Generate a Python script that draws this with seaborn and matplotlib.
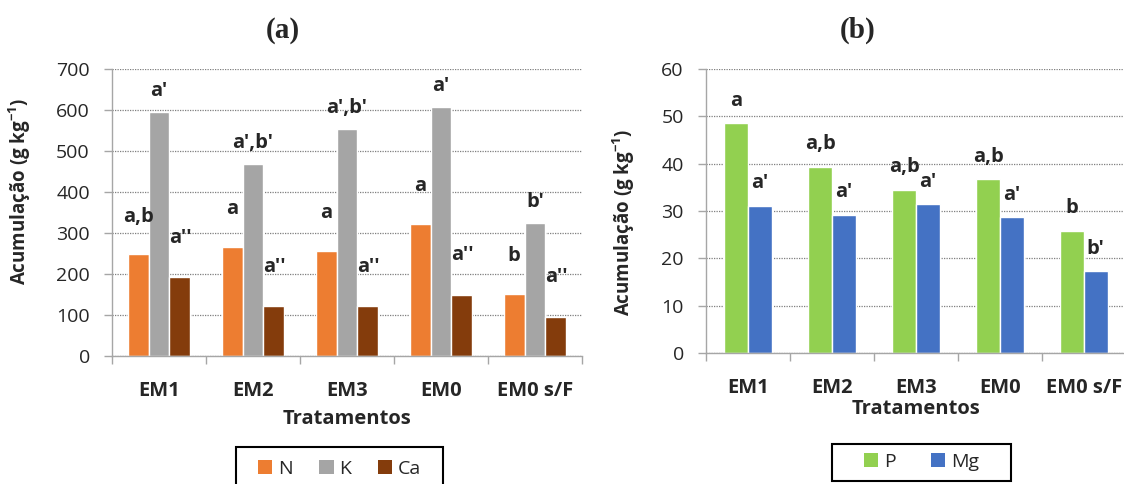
import matplotlib
matplotlib.use("Agg")
import matplotlib.pyplot as plt
import seaborn as sns
import pandas as pd
from matplotlib.patches import Patch, Rectangle
from matplotlib.ticker import FixedLocator, MultipleLocator

# ---------------- data ----------------
treatments = ["EM1", "EM2", "EM3", "EM0", "EM0 s/F"]
n_vals = [248, 266, 257, 323, 152]
k_vals = [596, 469, 553, 607, 325]
ca_vals = [193, 121, 122, 150, 96]
p_vals = [48.5, 39.4, 34.5, 36.7, 25.8]
mg_vals = [31.1, 29.2, 31.4, 28.7, 17.3]

n_letters = ["a,b", "a", "a", "a", "b"]
k_letters = ["a'", "a',b'", "a',b'", "a'", "b'"]
ca_letters = ["a''", "a''", "a''", "a''", "a''"]
p_letters = ["a", "a,b", "a,b", "a,b", "b"]
mg_letters = ["a'", "a'", "a'", "a'", "b'"]

colors_a = {"N": "#ED7D31", "K": "#A5A5A5", "Ca": "#843C0C"}
colors_b = {"P": "#92D050", "Mg": "#4472C4"}

# ---------------- style ----------------
sns.set_theme(style="white")
FONT = "Open Sans"
plt.rcParams["font.family"] = [FONT, "DejaVu Sans"]
plt.rcParams["mathtext.fontset"] = "custom"
plt.rcParams["mathtext.rm"] = FONT
plt.rcParams["mathtext.bf"] = FONT + ":bold"

df_a = pd.DataFrame({
    "Tratamento": treatments * 3,
    "Elemento": ["N"] * 5 + ["K"] * 5 + ["Ca"] * 5,
    "valor": n_vals + k_vals + ca_vals,
})
df_b = pd.DataFrame({
    "Tratamento": treatments * 2,
    "Elemento": ["P"] * 5 + ["Mg"] * 5,
    "valor": p_vals + mg_vals,
})

W, H = 1124, 484
fig = plt.figure(figsize=(W / 100, H / 100), dpi=100)
ax_a = fig.add_axes([112 / W, 128 / H, 470 / W, 287 / H])
ax_b = fig.add_axes([706 / W, 131 / H, 420 / W, 284 / H])

sns.barplot(data=df_a, x="Tratamento", y="valor", hue="Elemento",
            palette=colors_a, width=0.67, ax=ax_a, legend=False,
            saturation=1, errorbar=None)
sns.barplot(data=df_b, x="Tratamento", y="valor", hue="Elemento",
            palette=colors_b, width=0.56, ax=ax_b, legend=False,
            saturation=1, errorbar=None)

TICK = 14
BOLD = 14.5
GRID = "#7F7F7F"
SPINE = "#A6A6A6"


def style_axes(ax, ymax, step, xlabelpad):
    ax.set_ylim(0, ymax)
    ax.set_xlim(-0.5, len(treatments) - 0.5)
    ax.yaxis.set_major_locator(MultipleLocator(step))
    ax.grid(axis="y", linestyle=(0, (1, 1)), color=GRID, linewidth=0.9)
    ax.set_axisbelow(True)
    for s in ["top", "right"]:
        ax.spines[s].set_visible(False)
    for s in ["left", "bottom"]:
        ax.spines[s].set_color(SPINE)
        ax.spines[s].set_linewidth(1.0)
    ax.xaxis.set_minor_locator(FixedLocator([i - 0.5 for i in range(len(treatments) + 1)]))
    ax.tick_params(axis="x", which="major", length=0, pad=18,
                   labelsize=BOLD)
    ax.tick_params(axis="x", which="minor", length=6, width=1.0,
                   color=SPINE, direction="out", bottom=True)
    ax.tick_params(axis="y", which="major", length=6, width=1.0,
                   color=SPINE, direction="out", left=True, labelsize=TICK,
                   pad=10)
    for lbl in ax.get_xticklabels():
        lbl.set_fontweight("bold")
    ax.set_xlabel("Tratamentos", fontsize=BOLD, fontweight="bold",
                  labelpad=xlabelpad)
    ax.set_ylabel(r"Acumulação (g kg$^{\mathbf{-1}}$)", fontsize=13.5,
                  fontweight="bold")


style_axes(ax_a, 700, 100, 6)
style_axes(ax_b, 60, 10, 1)
ax_a.yaxis.set_label_coords(-0.168, 0.575)
ax_b.yaxis.set_label_coords(-0.164, 0.46)

# bar letters
for cont, labs, pad in zip(ax_a.containers, [n_letters, k_letters, ca_letters], [20, 8, 21]):
    ax_a.bar_label(cont, labels=labs, padding=pad, fontsize=BOLD, fontweight="bold")
for cont, labs in zip(ax_b.containers, [p_letters, mg_letters]):
    ax_b.bar_label(cont, labels=labs, padding=9, fontsize=BOLD, fontweight="bold")

# titles
fig.text(283 / W, 1 - 30 / H, "(a)", fontsize=21, fontweight="bold",
         family="Liberation Serif", ha="center", va="center")
fig.text(858 / W, 1 - 30 / H, "(b)", fontsize=21, fontweight="bold",
         family="Liberation Serif", ha="center", va="center")


# legends: frameless centred entries inside a separately drawn box (pixels)
def make_legend(names, colors, box, cy, colspacing):
    x0, y0, x1, y1 = box
    handles = [Patch(facecolor=colors[n], edgecolor="none", label=n) for n in names]
    fig.legend(handles=handles, ncol=len(names), loc="center",
               bbox_to_anchor=(((x0 + x1) / 2) / W, 1 - cy / H),
               frameon=False, fontsize=TICK, handlelength=0.75,
               handleheight=0.75, handletextpad=0.3,
               columnspacing=colspacing, borderpad=0, borderaxespad=0)
    fig.patches.append(Rectangle((x0 / W, 1 - y1 / H), (x1 - x0) / W,
                                 (y1 - y0) / H, transform=fig.transFigure,
                                 fill=False, edgecolor="black", linewidth=1.5))


make_legend(["N", "K", "Ca"], colors_a, (236, 447, 443, 490), 469, 1.35)
make_legend(["P", "Mg"], colors_b, (832, 444, 1011, 481), 462, 1.8)

fig.savefig("out.png", dpi=100)
